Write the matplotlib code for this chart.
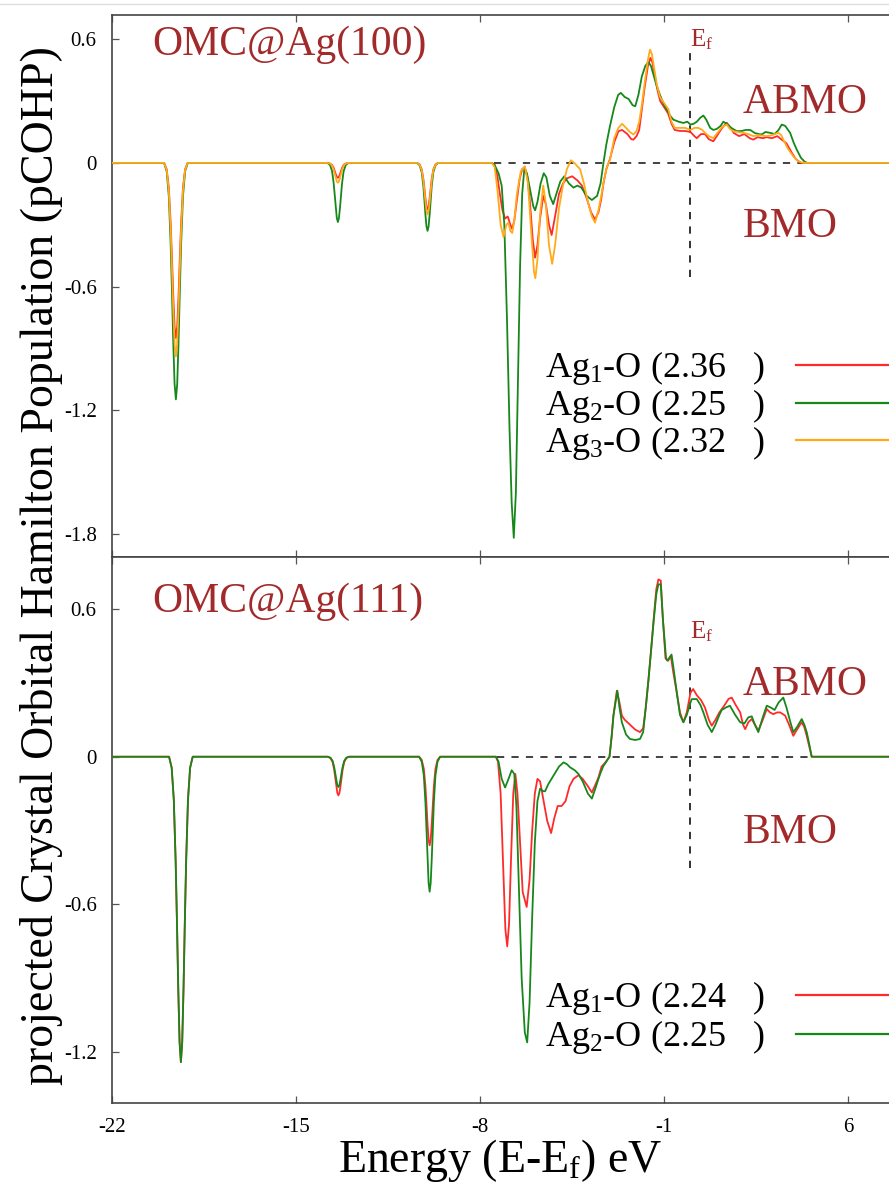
import matplotlib
matplotlib.use('Agg')
import matplotlib.pyplot as plt
from matplotlib.lines import Line2D

plt.rcParams['font.family'] = ['Liberation Serif', 'DejaVu Serif']
plt.rcParams['mathtext.fontset'] = 'custom'
plt.rcParams['mathtext.rm'] = 'Liberation Serif'
plt.rcParams['mathtext.it'] = 'Liberation Serif:italic'
plt.rcParams['axes.unicode_minus'] = False

# ---------------- data ----------------
x_ticks = [-22, -15, -8, -1, 6]
x_ticklabels = ['-22', '-15', '-8', '-1', '6']
top_yticks = [0.6, 0, -0.6, -1.2, -1.8]
top_yticklabels = ['0.6', '0', '-0.6', '-1.2', '-1.8']
bot_yticks = [0.6, 0, -0.6, -1.2]
bot_yticklabels = ['0.6', '0', '-0.6', '-1.2']

# ---- top panel: OMC@Ag(100) ----
top_dipA_e = [-20.02, -19.92, -19.84, -19.77, -19.72, -19.67, -19.62, -19.57, -19.52, -19.47, -19.42, -19.37, -19.30, -19.22, -19.12]
top_dipB_e = [-13.81, -13.71, -13.63, -13.57, -13.53, -13.49, -13.45, -13.41, -13.37, -13.33, -13.29, -13.25, -13.19, -13.11, -13.01]
top_dipC_e = [-10.40, -10.30, -10.22, -10.16, -10.12, -10.08, -10.04, -10.00, -9.96, -9.92, -9.88, -9.84, -9.78, -9.70, -9.60]

top_ag1_dipA = [0, -0.031, -0.119, -0.289, -0.459, -0.646, -0.795, -0.85, -0.795, -0.646, -0.459, -0.289, -0.119, -0.031, 0]
top_ag2_dipA = [0, -0.041, -0.161, -0.39, -0.62, -0.872, -1.073, -1.148, -1.073, -0.872, -0.62, -0.39, -0.161, -0.041, 0]
top_ag3_dipA = [0, -0.034, -0.132, -0.32, -0.508, -0.714, -0.879, -0.94, -0.879, -0.714, -0.508, -0.32, -0.132, -0.034, 0]

top_ag1_dipB = [0, -0.003, -0.010, -0.024, -0.039, -0.055, -0.067, -0.072, -0.067, -0.055, -0.039, -0.024, -0.010, -0.003, 0]
top_ag2_dipB = [0, -0.010, -0.040, -0.098, -0.155, -0.218, -0.268, -0.287, -0.268, -0.218, -0.155, -0.098, -0.040, -0.010, 0]
top_ag3_dipB = [0, -0.003, -0.013, -0.033, -0.052, -0.073, -0.090, -0.096, -0.090, -0.073, -0.052, -0.033, -0.013, -0.003, 0]

top_ag1_dipC = [0, -0.008, -0.032, -0.077, -0.122, -0.172, -0.211, -0.226, -0.211, -0.172, -0.122, -0.077, -0.032, -0.008, 0]
top_ag2_dipC = [0, -0.012, -0.046, -0.112, -0.178, -0.251, -0.309, -0.33, -0.309, -0.251, -0.178, -0.112, -0.046, -0.012, 0]
top_ag3_dipC = [0, -0.009, -0.035, -0.085, -0.135, -0.19, -0.234, -0.25, -0.234, -0.19, -0.135, -0.085, -0.035, -0.009, 0]

top_ag1_e = [-7.55, -7.45, -7.35, -7.25, -7.15, -7.05, -6.95, -6.85, -6.78, -6.7, -6.6, -6.5, -6.4, -6.3, -6.2, -6.1, -6.0, -5.91, -5.82, -5.72, -5.6, -5.5, -5.38, -5.28, -5.15, -5.0, -4.85, -4.7, -4.5, -4.3, -4.13, -3.95, -3.78, -3.63, -3.5, -3.4, -3.31, -3.2, -3.06, -2.9, -2.74, -2.6, -2.4, -2.25, -2.17, -2.05, -1.95, -1.85, -1.75, -1.62, -1.52, -1.45, -1.35, -1.25, -1.15, -1.0, -0.85, -0.72, -0.6, -0.4, -0.2, 0.0, 0.15, 0.24, 0.4, 0.55, 0.7, 0.87, 1.0, 1.2, 1.38, 1.5, 1.65, 1.85, 2.05, 2.25, 2.39, 2.55, 2.75, 2.9, 3.1, 3.3, 3.5, 3.65, 3.85, 4.0, 4.15, 4.23]
top_ag1_p = [0, -0.01, -0.06, -0.15, -0.23, -0.27, -0.26, -0.3, -0.32, -0.28, -0.18, -0.08, -0.03, -0.02, -0.07, -0.2, -0.37, -0.46, -0.4, -0.27, -0.16, -0.2, -0.3, -0.35, -0.26, -0.15, -0.1, -0.075, -0.065, -0.085, -0.11, -0.17, -0.24, -0.275, -0.24, -0.18, -0.1, -0.03, 0.02, 0.1, 0.154, 0.16, 0.14, 0.115, 0.113, 0.13, 0.16, 0.26, 0.36, 0.47, 0.51, 0.49, 0.42, 0.35, 0.3, 0.27, 0.24, 0.19, 0.16, 0.155, 0.155, 0.15, 0.13, 0.12, 0.14, 0.14, 0.115, 0.105, 0.13, 0.17, 0.195, 0.175, 0.145, 0.13, 0.14, 0.12, 0.113, 0.125, 0.12, 0.125, 0.12, 0.13, 0.11, 0.095, 0.05, 0.02, 0.004, 0]

top_ag2_e = [-7.55, -7.45, -7.3, -7.18, -7.08, -6.98, -6.88, -6.8, -6.72, -6.64, -6.56, -6.48, -6.4, -6.32, -6.22, -6.1, -5.98, -5.91, -5.82, -5.7, -5.58, -5.48, -5.35, -5.22, -5.1, -4.95, -4.8, -4.62, -4.45, -4.3, -4.15, -3.95, -3.75, -3.55, -3.42, -3.31, -3.2, -3.06, -2.9, -2.75, -2.65, -2.5, -2.35, -2.2, -2.1, -1.98, -1.85, -1.72, -1.6, -1.5, -1.41, -1.3, -1.16, -1.0, -0.9, -0.78, -0.65, -0.45, -0.27, -0.12, 0.0, 0.12, 0.24, 0.38, 0.49, 0.6, 0.75, 0.87, 1.0, 1.15, 1.25, 1.38, 1.55, 1.76, 1.95, 2.1, 2.27, 2.45, 2.6, 2.71, 2.85, 3.03, 3.2, 3.35, 3.47, 3.6, 3.79, 3.92, 4.04, 4.2, 4.35, 4.45]
top_ag2_p = [0, -0.01, -0.05, -0.11, -0.3, -0.75, -1.3, -1.65, -1.82, -1.6, -1.05, -0.5, -0.15, -0.03, -0.05, -0.13, -0.21, -0.23, -0.19, -0.1, -0.05, -0.07, -0.16, -0.2, -0.15, -0.09, -0.065, -0.1, -0.12, -0.11, -0.12, -0.16, -0.18, -0.16, -0.1, 0.0, 0.09, 0.18, 0.27, 0.33, 0.34, 0.32, 0.31, 0.28, 0.275, 0.33, 0.42, 0.47, 0.49, 0.47, 0.43, 0.38, 0.33, 0.28, 0.26, 0.23, 0.21, 0.2, 0.194, 0.2, 0.186, 0.19, 0.2, 0.22, 0.23, 0.21, 0.17, 0.16, 0.165, 0.18, 0.2, 0.19, 0.17, 0.154, 0.155, 0.16, 0.16, 0.145, 0.14, 0.138, 0.15, 0.146, 0.14, 0.16, 0.186, 0.18, 0.146, 0.1, 0.065, 0.025, 0.005, 0]

top_ag3_e = [-7.55, -7.45, -7.35, -7.22, -7.11, -7.0, -6.92, -6.85, -6.78, -6.7, -6.6, -6.45, -6.3, -6.18, -6.05, -5.95, -5.9, -5.82, -5.72, -5.6, -5.5, -5.38, -5.26, -5.15, -5.0, -4.85, -4.7, -4.55, -4.42, -4.2, -4.05, -3.9, -3.75, -3.63, -3.5, -3.38, -3.3, -3.18, -3.06, -2.9, -2.74, -2.6, -2.45, -2.3, -2.17, -2.05, -1.95, -1.85, -1.75, -1.62, -1.54, -1.47, -1.38, -1.28, -1.16, -1.0, -0.84, -0.72, -0.6, -0.4, -0.2, 0.0, 0.15, 0.3, 0.45, 0.55, 0.7, 0.87, 1.05, 1.2, 1.38, 1.5, 1.63, 1.8, 2.01, 2.2, 2.39, 2.6, 2.9, 3.1, 3.34, 3.45, 3.53, 3.7, 3.91, 4.1, 4.29]
top_ag3_p = [0, -0.02, -0.12, -0.3, -0.36, -0.3, -0.29, -0.33, -0.34, -0.28, -0.15, -0.04, -0.016, -0.1, -0.35, -0.53, -0.56, -0.47, -0.25, -0.11, -0.2, -0.4, -0.49, -0.4, -0.22, -0.11, -0.03, 0.013, 0.0, -0.03, -0.1, -0.19, -0.26, -0.29, -0.23, -0.15, -0.09, -0.02, 0.016, 0.12, 0.17, 0.19, 0.17, 0.15, 0.138, 0.155, 0.2, 0.28, 0.38, 0.5, 0.55, 0.53, 0.46, 0.38, 0.32, 0.29, 0.26, 0.2, 0.17, 0.17, 0.17, 0.16, 0.17, 0.17, 0.16, 0.146, 0.13, 0.12, 0.15, 0.175, 0.186, 0.165, 0.154, 0.15, 0.146, 0.14, 0.13, 0.135, 0.13, 0.135, 0.146, 0.135, 0.113, 0.07, 0.032, 0.008, 0]

# ---- bottom panel: OMC@Ag(111) ----
bot_dipA_e = [-19.83, -19.73, -19.65, -19.58, -19.53, -19.48, -19.43, -19.38, -19.33, -19.28, -19.23, -19.18, -19.11, -19.03, -18.93]
bot_dipB_e = [-13.79, -13.69, -13.61, -13.55, -13.51, -13.47, -13.43, -13.39, -13.35, -13.31, -13.27, -13.23, -13.17, -13.09, -12.99]
bot_dipC_e = [-10.32, -10.22, -10.14, -10.08, -10.04, -10.00, -9.96, -9.92, -9.88, -9.84, -9.80, -9.76, -9.70, -9.62, -9.52]

bot_ag1_dipA = [0, -0.045, -0.174, -0.422, -0.67, -0.942, -1.159, -1.24, -1.159, -0.942, -0.67, -0.422, -0.174, -0.045, 0]
bot_ag2_dipA = [0, -0.045, -0.174, -0.422, -0.67, -0.942, -1.159, -1.24, -1.159, -0.942, -0.67, -0.422, -0.174, -0.045, 0]
bot_ag1_dipB = [0, -0.006, -0.022, -0.053, -0.085, -0.119, -0.147, -0.157, -0.147, -0.119, -0.085, -0.053, -0.022, -0.006, 0]
bot_ag2_dipB = [0, -0.004, -0.017, -0.042, -0.066, -0.093, -0.115, -0.123, -0.115, -0.093, -0.066, -0.042, -0.017, -0.004, 0]
bot_ag1_dipC = [0, -0.013, -0.050, -0.122, -0.194, -0.274, -0.337, -0.36, -0.337, -0.274, -0.194, -0.122, -0.050, -0.013, 0]
bot_ag2_dipC = [0, -0.020, -0.077, -0.186, -0.296, -0.416, -0.512, -0.548, -0.512, -0.416, -0.296, -0.186, -0.077, -0.020, 0]

bot_ag1_e = [-7.4, -7.32, -7.22, -7.12, -7.04, -6.97, -6.9, -6.82, -6.74, -6.66, -6.58, -6.48, -6.38, -6.23, -6.12, -6.02, -5.92, -5.82, -5.72, -5.6, -5.45, -5.3, -5.18, -5.05, -4.9, -4.75, -4.6, -4.45, -4.26, -4.1, -3.9, -3.75, -3.6, -3.5, -3.38, -3.25, -3.08, -3.0, -2.93, -2.8, -2.7, -2.61, -2.5, -2.3, -2.1, -1.92, -1.8, -1.7, -1.6, -1.5, -1.4, -1.3, -1.22, -1.13, -1.05, -0.95, -0.88, -0.75, -0.65, -0.52, -0.4, -0.27, -0.14, 0.0, 0.1, 0.24, 0.4, 0.55, 0.7, 0.81, 0.95, 1.1, 1.3, 1.45, 1.57, 1.72, 1.89, 2.0, 2.08, 2.2, 2.33, 2.45, 2.58, 2.75, 2.9, 3.02, 3.15, 3.3, 3.41, 3.6, 3.75, 3.91, 4.05, 4.23, 4.33, 4.42, 4.52, 4.61]
bot_ag1_p = [0, -0.02, -0.15, -0.45, -0.7, -0.77, -0.68, -0.4, -0.15, -0.07, -0.15, -0.35, -0.55, -0.61, -0.5, -0.3, -0.15, -0.09, -0.1, -0.17, -0.26, -0.31, -0.25, -0.2, -0.2, -0.18, -0.12, -0.09, -0.075, -0.09, -0.12, -0.145, -0.11, -0.084, -0.04, -0.025, 0.0, 0.08, 0.167, 0.268, 0.22, 0.167, 0.15, 0.13, 0.11, 0.1, 0.115, 0.2, 0.31, 0.43, 0.56, 0.68, 0.72, 0.715, 0.56, 0.4, 0.39, 0.41, 0.34, 0.26, 0.18, 0.14, 0.18, 0.26, 0.275, 0.25, 0.23, 0.2, 0.15, 0.126, 0.15, 0.18, 0.21, 0.235, 0.24, 0.21, 0.18, 0.13, 0.112, 0.14, 0.153, 0.13, 0.106, 0.15, 0.194, 0.18, 0.173, 0.18, 0.18, 0.167, 0.13, 0.085, 0.11, 0.14, 0.12, 0.085, 0.04, 0]

bot_ag2_e = [-7.4, -7.3, -7.18, -7.05, -6.92, -6.8, -6.7, -6.62, -6.52, -6.42, -6.3, -6.21, -6.12, -6.02, -5.92, -5.82, -5.72, -5.6, -5.53, -5.4, -5.21, -5.0, -4.83, -4.7, -4.58, -4.4, -4.26, -4.1, -3.9, -3.75, -3.62, -3.5, -3.4, -3.31, -3.2, -3.08, -3.0, -2.93, -2.78, -2.7, -2.61, -2.45, -2.3, -2.1, -1.92, -1.8, -1.7, -1.6, -1.5, -1.4, -1.3, -1.22, -1.13, -1.05, -0.93, -0.85, -0.72, -0.62, -0.52, -0.4, -0.27, -0.14, 0.0, 0.05, 0.24, 0.38, 0.49, 0.65, 0.81, 0.95, 1.1, 1.19, 1.35, 1.5, 1.7, 1.89, 2.05, 2.2, 2.33, 2.45, 2.58, 2.75, 2.9, 3.05, 3.2, 3.35, 3.53, 3.65, 3.8, 3.91, 4.05, 4.23, 4.33, 4.42, 4.52, 4.61]
bot_ag2_p = [0, -0.02, -0.09, -0.125, -0.09, -0.055, -0.07, -0.2, -0.55, -0.9, -1.12, -1.16, -1.0, -0.65, -0.35, -0.18, -0.13, -0.14, -0.14, -0.11, -0.077, -0.04, -0.023, -0.03, -0.043, -0.055, -0.07, -0.1, -0.15, -0.17, -0.13, -0.09, -0.06, -0.037, -0.02, 0.0, 0.08, 0.167, 0.268, 0.2, 0.14, 0.09, 0.072, 0.068, 0.072, 0.1, 0.2, 0.31, 0.43, 0.55, 0.66, 0.70, 0.70, 0.56, 0.4, 0.39, 0.415, 0.34, 0.26, 0.17, 0.14, 0.17, 0.22, 0.234, 0.234, 0.21, 0.18, 0.13, 0.1, 0.13, 0.17, 0.19, 0.2, 0.207, 0.17, 0.14, 0.135, 0.16, 0.164, 0.13, 0.1, 0.16, 0.207, 0.2, 0.19, 0.22, 0.24, 0.2, 0.14, 0.1, 0.12, 0.153, 0.13, 0.1, 0.05, 0]

top_labels = ['Ag$_1$-O (2.36   )', 'Ag$_2$-O (2.25   )', 'Ag$_3$-O (2.32   )']
bot_labels = ['Ag$_1$-O (2.24   )', 'Ag$_2$-O (2.25   )']
panel_titles = ['OMC@Ag(100)', 'OMC@Ag(111)']

X_MIN, X_MAX = -22, 7.55

# ---------------- styles ----------------
C_RED = '#ff2a2a'
C_GREEN = '#16881a'
C_ORANGE = '#ffab1a'
C_TXT = '#a32a2a'
LW = 1.3

W, H = 889, 1189
fig = plt.figure(figsize=(W / 100, H / 100), dpi=100)
ax1 = fig.add_axes([112 / W, 1 - 557 / H, 1 - 112 / W, (557 - 15) / H])
ax2 = fig.add_axes([112 / W, 1 - 1103 / H, 1 - 112 / W, (1103 - 557) / H])


def build(dA, dB, dC, pA, pB, pC, e, p):
    xs = [X_MIN] + dA + dB + dC + e + [X_MAX + 0.5]
    ys = [0] + pA + pB + pC + p + [0]
    return xs, ys


top_series = [
    (build(top_dipA_e, top_dipB_e, top_dipC_e, top_ag1_dipA, top_ag1_dipB, top_ag1_dipC, top_ag1_e, top_ag1_p), C_RED),
    (build(top_dipA_e, top_dipB_e, top_dipC_e, top_ag2_dipA, top_ag2_dipB, top_ag2_dipC, top_ag2_e, top_ag2_p), C_GREEN),
    (build(top_dipA_e, top_dipB_e, top_dipC_e, top_ag3_dipA, top_ag3_dipB, top_ag3_dipC, top_ag3_e, top_ag3_p), C_ORANGE),
]
bot_series = [
    (build(bot_dipA_e, bot_dipB_e, bot_dipC_e, bot_ag1_dipA, bot_ag1_dipB, bot_ag1_dipC, bot_ag1_e, bot_ag1_p), C_RED),
    (build(bot_dipA_e, bot_dipB_e, bot_dipC_e, bot_ag2_dipA, bot_ag2_dipB, bot_ag2_dipC, bot_ag2_e, bot_ag2_p), C_GREEN),
]

for ax in (ax1, ax2):
    ax.set_xlim(X_MIN, X_MAX)
    ax.set_xticks(x_ticks)
    ax.tick_params(axis='both', direction='in', length=5, width=0.9, color='#555555',
                   labelsize=15, top=True, bottom=True, right=False, pad=11)
    for s in ['left', 'top', 'bottom']:
        ax.spines[s].set_color('#444444')
        ax.spines[s].set_linewidth(1.2)
    ax.spines['right'].set_visible(False)

ax1.set_ylim(-1.913, 0.718)
ax1.set_yticks(top_yticks)
ax1.set_yticklabels(top_yticklabels)
ax1.set_xticklabels([])
ax2.set_ylim(-1.406, 0.811)
ax2.set_yticks(bot_yticks)
ax2.set_yticklabels(bot_yticklabels)
ax2.set_xticklabels(x_ticklabels)

# reference dashed lines
ax1.plot([-7.49, 4.29], [0, 0], ls=(0, (4, 4)), color='#333333', lw=1.3, zorder=1)
ax1.plot([0, 0], [-0.553, 0.54], ls=(0, (4, 4)), color='#222222', lw=1.3, zorder=1)
ax2.plot([-7.37, 4.61], [0, 0], ls=(0, (4, 4)), color='#333333', lw=1.3, zorder=1)
ax2.plot([0, 0], [-0.45, 0.447], ls=(0, (4, 4)), color='#222222', lw=1.3, zorder=1)

for (xs, ys), c in top_series:
    ax1.plot(xs, ys, color=c, lw=LW, zorder=3)
for (xs, ys), c in bot_series:
    ax2.plot(xs, ys, color=c, lw=LW, zorder=3)


def ftext(px, py, s, **kw):
    fig.text(px / W, 1 - py / H, s, **kw)


# panel annotations
ftext(152, 45, panel_titles[0], fontsize=30, color=C_TXT, va='center', ha='left')
ftext(152, 602, panel_titles[1], fontsize=30, color=C_TXT, va='center', ha='left')
ftext(743, 103, 'ABMO', fontsize=30, color=C_TXT, va='center', ha='left')
ftext(743, 227, 'BMO', fontsize=30, color=C_TXT, va='center', ha='left')
ftext(743, 685, 'ABMO', fontsize=30, color=C_TXT, va='center', ha='left')
ftext(743, 833, 'BMO', fontsize=30, color=C_TXT, va='center', ha='left')
ftext(690, 40, r'E$_\mathrm{f}$', fontsize=18, color=C_TXT, va='center', ha='left')
ftext(690, 632, r'E$_\mathrm{f}$', fontsize=18, color=C_TXT, va='center', ha='left')

# legends (text then sample line on the right)
for lab, ((_, _), c), py in zip(top_labels, top_series, [368, 406, 443]):
    ftext(545, py, lab, fontsize=26, color='black', va='center', ha='left')
    fig.add_artist(Line2D([796 / W, 1.02], [1 - (py - 3) / H] * 2, color=c, lw=1.6,
                          transform=fig.transFigure))
for lab, ((_, _), c), py in zip(bot_labels, bot_series, [998, 1037]):
    ftext(545, py, lab, fontsize=26, color='black', va='center', ha='left')
    fig.add_artist(Line2D([796 / W, 1.02], [1 - (py - 3) / H] * 2, color=c, lw=1.6,
                          transform=fig.transFigure))

# axis labels
ftext(42, 566, 'projected Crystal Orbital Hamilton Population (pCOHP)', fontsize=33,
      rotation=90, va='center', ha='center')
ftext(500, 1160, r'Energy (E-E$_\mathrm{f}$) eV', fontsize=33, va='center', ha='center')

# thin top border line of the screenshot
fig.add_artist(Line2D([0, 1], [1 - 4 / H] * 2, color='#dddddd', lw=1, transform=fig.transFigure))

fig.savefig('out.png', dpi=100)
